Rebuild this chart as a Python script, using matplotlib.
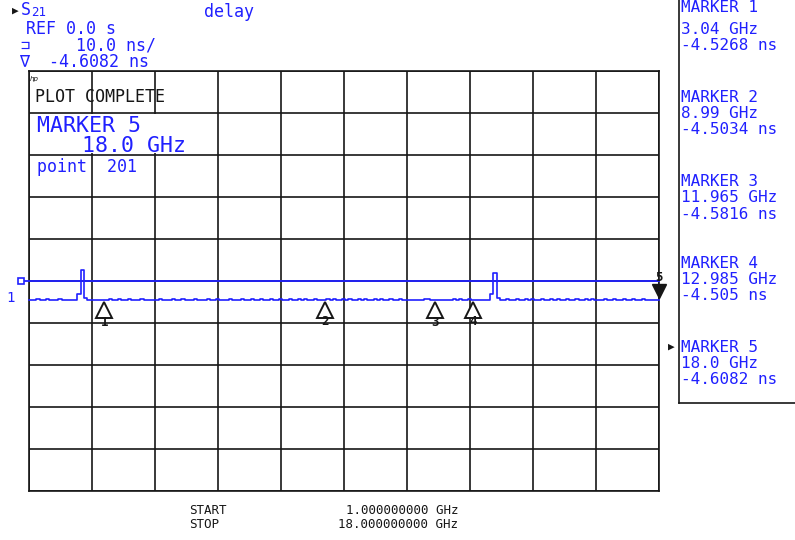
import numpy as np
import matplotlib
matplotlib.use("Agg")
from matplotlib import pyplot as plt
from matplotlib.lines import Line2D
from matplotlib.patches import Rectangle
import matplotlib.transforms as mtransforms

W, H = 795, 540
BLUE = '#2020ff'
INK = '#161616'
MONO = ['DejaVu Sans Mono', 'DejaVu Sans']

# sweep settings
start_ghz = 1.0
stop_ghz = 18.0
n_points = 201
ref_ns = 0.0
scale_ns = 10.0

# S21 delay trace (ns), 201 points
delay_ns = [
    -4.60, -4.61, -4.58, -4.34, -4.60, -4.62, -4.37, -4.59, -4.61, -4.60,
    -4.36, -4.60, -4.62, -4.59, -4.61, -4.58, -3.10, 2.55, -3.95, -4.52,
    -4.60, -4.61, -4.62, -4.60, -4.5268, -4.62, -4.35, -4.60, -4.61, -4.33,
    -4.60, -4.62, -4.36, -4.61, -4.60, -4.59, -4.34, -4.61, -4.62, -4.60,
    -4.58, -4.60, -4.35, -4.61, -4.62, -4.60, -4.37, -4.59, -4.61, -4.34,
    -4.60, -4.62, -4.61, -4.35, -4.60, -4.59, -4.61, -4.36, -4.62, -4.60,
    -4.34, -4.61, -4.60, -4.62, -4.35, -4.60, -4.61, -4.59, -4.33, -4.60,
    -4.62, -4.36, -4.61, -4.60, -4.35, -4.62, -4.60, -4.34, -4.61, -4.59,
    -4.36, -4.60, -4.62, -4.35, -4.61, -4.60, -4.37, -4.62, -4.34, -4.60,
    -4.61, -4.35, -4.60, -4.62, -4.5034, -4.36, -4.61, -4.34, -4.60, -4.62,
    -4.35, -4.60, -4.34, -4.61, -4.62, -4.36, -4.60, -4.35, -4.61, -4.60,
    -4.34, -4.62, -4.36, -4.60, -4.61, -4.35, -4.60, -4.62, -4.34, -4.61,
    -4.60, -4.62, -4.61, -4.60, -4.62, -4.59, -4.35, -4.36, -4.61, -4.5816,
    -4.62, -4.60, -4.61, -4.62, -4.60, -4.35, -4.61, -4.36, -4.60, -4.62,
    -4.36, -4.505, -4.61, -4.60, -4.62, -4.61, -4.60, -3.05, 1.80, -3.95,
    -4.55, -4.61, -4.36, -4.60, -4.62, -4.34, -4.61, -4.60, -4.35, -4.62,
    -4.36, -4.60, -4.61, -4.35, -4.62, -4.60, -4.34, -4.61, -4.36, -4.60,
    -4.62, -4.35, -4.60, -4.61, -4.34, -4.62, -4.60, -4.36, -4.61, -4.35,
    -4.60, -4.62, -4.61, -4.35, -4.60, -4.62, -4.36, -4.61, -4.60, -4.34,
    -4.62, -4.61, -4.36, -4.60, -4.62, -4.35, -4.61, -4.60, -4.62, -4.61,
    -4.6082,
]

# markers
marker_ids = [1, 2, 3, 4, 5]
marker_ghz = [3.04, 8.99, 11.965, 12.985, 18.0]
marker_ns = [-4.5268, -4.5034, -4.5816, -4.505, -4.6082]
marker_freq_txt = ['3.04 GHz', '8.99 GHz', '11.965 GHz', '12.985 GHz', '18.0 GHz']
marker_val_txt = ['-4.5268 ns', '-4.5034 ns', '-4.5816 ns', '-4.505 ns', '-4.6082 ns']
marker_title_y = [8, 98, 182, 263, 347]   # px, right panel rows


def fx(x):
    return x / W


def fy(y):
    return 1 - y / H


freq = np.linspace(start_ghz, stop_ghz, n_points)

fig = plt.figure(figsize=(W / 100, H / 100), dpi=100)
fig.patch.set_facecolor('white')

ax = fig.add_axes([fx(28.5), fy(491), 630.5 / W, 420 / H])
ax.set_xlim(start_ghz, stop_ghz)
ax.set_ylim(ref_ns - 5 * scale_ns, ref_ns + 5 * scale_ns)
ax.set_xticks(np.linspace(start_ghz, stop_ghz, 11))
ax.set_yticks(np.arange(-5, 6) * scale_ns + ref_ns)
ax.tick_params(length=0, labelbottom=False, labelleft=False)
ax.grid(True, color=INK, lw=1.2)
for s in ax.spines.values():
    s.set_color(INK)
    s.set_linewidth(1.2)

# reference line + trace
ax.axhline(ref_ns, xmin=-0.009, xmax=1, color=BLUE, lw=1.3, clip_on=False, zorder=3)
ax.plot(freq, delay_ns, color=BLUE, lw=1.2, drawstyle='steps-mid', zorder=4, clip_on=False)

# marker symbols
below = mtransforms.offset_copy(ax.transData, fig=fig, x=0, y=-10, units='dots')
below_txt = mtransforms.offset_copy(ax.transData, fig=fig, x=0, y=-22, units='dots')
above = mtransforms.offset_copy(ax.transData, fig=fig, x=0, y=9, units='dots')
above_txt = mtransforms.offset_copy(ax.transData, fig=fig, x=0, y=23, units='dots')
for k in range(len(marker_ids)):
    if marker_ids[k] == 5:
        ax.plot(marker_ghz[k], marker_ns[k], marker='v', ms=10, mfc=INK, mec=INK,
                transform=above, clip_on=False, zorder=6)
        ax.text(marker_ghz[k], marker_ns[k], str(marker_ids[k]), transform=above_txt,
                ha='center', va='center', fontsize=9, color=INK, family=MONO,
                fontweight='bold', clip_on=False, zorder=6)
    else:
        ax.plot(marker_ghz[k], marker_ns[k], marker='^', ms=11, mfc='white', mec=INK,
                mew=1.4, transform=below, clip_on=False, zorder=6)
        ax.text(marker_ghz[k], marker_ns[k], str(marker_ids[k]), transform=below_txt,
                ha='center', va='center', fontsize=9, color=INK, family=MONO,
                fontweight='bold', zorder=6)

# in-grid annotation
fig.add_artist(Rectangle((fx(30), fy(153)), 180 / W, 39 / H, transform=fig.transFigure,
                         facecolor='white', edgecolor='none', zorder=5))
fig.text(fx(30), fy(79), 'hp', fontsize=5, color=INK, style='italic', va='center', zorder=6)
fig.text(fx(35), fy(97), 'PLOT COMPLETE', fontsize=12, color=INK, family=MONO,
         va='center', zorder=6)
fig.text(fx(37), fy(126), 'MARKER 5', fontsize=15.5, color=BLUE, family=MONO,
         va='center', zorder=6)
fig.text(fx(82), fy(146), '18.0 GHz', fontsize=15.5, color=BLUE, family=MONO,
         va='center', zorder=6)
fig.text(fx(37), fy(167), 'point  201', fontsize=12, color=BLUE, family=MONO,
         va='center', zorder=6)

# header
fig.text(fx(12), fy(11), '\u25b6', fontsize=8, color=INK, va='center', family=MONO)
fig.text(fx(21), fy(10), 'S', fontsize=12, color=BLUE, va='center', family=MONO)
fig.text(fx(31), fy(13), '21', fontsize=9, color=BLUE, va='center', family=MONO)
fig.text(fx(204), fy(12), 'delay', fontsize=12, color=BLUE, va='center', family=MONO)
fig.text(fx(26), fy(29), 'REF 0.0 s', fontsize=12, color=BLUE, va='center', family=MONO)
fig.text(fx(20), fy(45), '\u2290', fontsize=11, color=BLUE, va='center', family=MONO)
fig.text(fx(76), fy(45), '10.0 ns/', fontsize=12, color=BLUE, va='center', family=MONO)
fig.text(fx(19), fy(61), '\u2207', fontsize=12, color=BLUE, va='center', family=MONO)
fig.text(fx(49), fy(62), '-4.6082 ns', fontsize=12, color=BLUE, va='center', family=MONO)

# channel / reference indicators on the left
fig.text(fx(6), fy(298), '1', fontsize=10, color=BLUE, va='center', family=MONO)
fig.add_artist(Line2D([fx(21)], [fy(281)], marker='s', ms=4, mfc='white', mec=BLUE,
                      mew=1.2, transform=fig.transFigure))

# right marker panel
fig.add_artist(Line2D([fx(679), fx(679)], [fy(0), fy(403)], color=INK, lw=1.2,
                      transform=fig.transFigure))
fig.add_artist(Line2D([fx(679), fx(800)], [fy(403), fy(403)], color=INK, lw=1.2,
                      transform=fig.transFigure))
for k in range(len(marker_ids)):
    y0 = marker_title_y[k]
    fig.text(fx(681), fy(y0), 'MARKER %d' % marker_ids[k], fontsize=11.5, color=BLUE,
             va='center', family=MONO)
    y1 = y0 + 22 if k == 0 else y0 + 16
    fig.text(fx(681), fy(y1), marker_freq_txt[k], fontsize=11.5, color=BLUE,
             va='center', family=MONO)
    fig.text(fx(681), fy(y1 + 16), marker_val_txt[k], fontsize=11.5, color=BLUE,
             va='center', family=MONO)
fig.text(fx(668), fy(347), '\u25b6', fontsize=8, color=INK, va='center', family=MONO)

# sweep range
fig.text(fx(189), fy(511), 'START', fontsize=9, color=INK, va='center', family=MONO)
fig.text(fx(458), fy(511), '1.000000000 GHz', fontsize=9, color=INK, va='center',
         ha='right', family=MONO)
fig.text(fx(189), fy(525), 'STOP', fontsize=9, color=INK, va='center', family=MONO)
fig.text(fx(458), fy(525), '18.000000000 GHz', fontsize=9, color=INK, va='center',
         ha='right', family=MONO)

fig.savefig('out.png', dpi=100)
